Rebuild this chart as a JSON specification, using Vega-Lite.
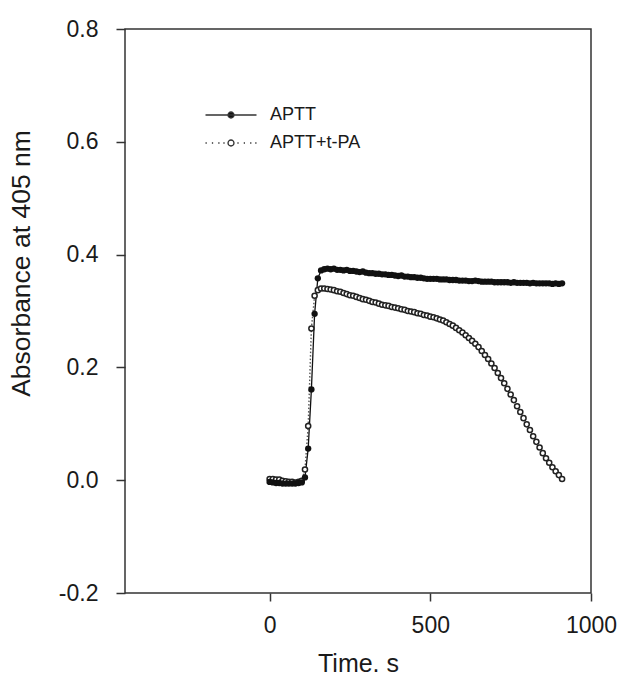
{
  "$schema": "https://vega.github.io/schema/vega-lite/v6.json",
  "width": 466,
  "height": 564,
  "autosize": "none",
  "padding": {"left": 125, "top": 29, "right": 31, "bottom": 85},
  "background": "white",
  "config": {
    "font": "Liberation Sans",
    "view": {"stroke": "#333333", "strokeWidth": 1.5},
    "axis": {"grid": false, "domain": false, "tickColor": "#333333", "tickWidth": 1.5, "labelColor": "#1a1a1a", "titleColor": "#1a1a1a", "labelFont": "Liberation Sans", "titleFont": "Liberation Sans", "titleFontWeight": "normal"}
  },
  "datasets": {
    "aptt": [
      {"t":0,"a":-0.003},{"t":10,"a":-0.004},{"t":20,"a":-0.005},{"t":30,"a":-0.005},{"t":40,"a":-0.006},{"t":50,"a":-0.006},{"t":60,"a":-0.006},{"t":70,"a":-0.006},{"t":80,"a":-0.006},{"t":90,"a":-0.005},{"t":100,"a":-0.004},{"t":110,"a":0.005},{"t":120,"a":0.056},{"t":130,"a":0.161},{"t":140,"a":0.295},{"t":150,"a":0.358},{"t":160,"a":0.372},{"t":170,"a":0.374},{"t":180,"a":0.375},{"t":190,"a":0.374},{"t":200,"a":0.375},{"t":210,"a":0.373},{"t":220,"a":0.373},{"t":230,"a":0.372},{"t":240,"a":0.373},{"t":250,"a":0.371},{"t":260,"a":0.371},{"t":270,"a":0.370},{"t":280,"a":0.369},{"t":290,"a":0.370},{"t":300,"a":0.368},{"t":310,"a":0.367},{"t":320,"a":0.367},{"t":330,"a":0.366},{"t":340,"a":0.366},{"t":350,"a":0.365},{"t":360,"a":0.365},{"t":370,"a":0.364},{"t":380,"a":0.364},{"t":390,"a":0.363},{"t":400,"a":0.362},{"t":410,"a":0.363},{"t":420,"a":0.361},{"t":430,"a":0.361},{"t":440,"a":0.360},{"t":450,"a":0.360},{"t":460,"a":0.359},{"t":470,"a":0.359},{"t":480,"a":0.358},{"t":490,"a":0.357},{"t":500,"a":0.357},{"t":510,"a":0.357},{"t":520,"a":0.357},{"t":530,"a":0.356},{"t":540,"a":0.356},{"t":550,"a":0.356},{"t":560,"a":0.355},{"t":570,"a":0.355},{"t":580,"a":0.355},{"t":590,"a":0.354},{"t":600,"a":0.354},{"t":610,"a":0.354},{"t":620,"a":0.353},{"t":630,"a":0.353},{"t":640,"a":0.354},{"t":650,"a":0.353},{"t":660,"a":0.352},{"t":670,"a":0.352},{"t":680,"a":0.352},{"t":690,"a":0.352},{"t":700,"a":0.351},{"t":710,"a":0.351},{"t":720,"a":0.351},{"t":730,"a":0.351},{"t":740,"a":0.351},{"t":750,"a":0.350},{"t":760,"a":0.351},{"t":770,"a":0.350},{"t":780,"a":0.350},{"t":790,"a":0.350},{"t":800,"a":0.350},{"t":810,"a":0.349},{"t":820,"a":0.350},{"t":830,"a":0.349},{"t":840,"a":0.349},{"t":850,"a":0.349},{"t":860,"a":0.349},{"t":870,"a":0.349},{"t":880,"a":0.348},{"t":890,"a":0.349},{"t":900,"a":0.348},{"t":910,"a":0.349}
    ],
    "tpa": [
      {"t":0,"a":0.002},{"t":10,"a":0.002},{"t":20,"a":0.001},{"t":30,"a":0.001},{"t":40,"a":-0.001},{"t":50,"a":-0.002},{"t":60,"a":-0.003},{"t":70,"a":-0.003},{"t":80,"a":-0.004},{"t":90,"a":-0.003},{"t":100,"a":-0.001},{"t":110,"a":0.019},{"t":120,"a":0.096},{"t":130,"a":0.269},{"t":140,"a":0.327},{"t":150,"a":0.337},{"t":160,"a":0.340},{"t":170,"a":0.340},{"t":180,"a":0.339},{"t":190,"a":0.338},{"t":200,"a":0.337},{"t":210,"a":0.335},{"t":220,"a":0.334},{"t":230,"a":0.332},{"t":240,"a":0.330},{"t":250,"a":0.328},{"t":260,"a":0.327},{"t":270,"a":0.325},{"t":280,"a":0.323},{"t":290,"a":0.321},{"t":300,"a":0.320},{"t":310,"a":0.318},{"t":320,"a":0.316},{"t":330,"a":0.315},{"t":340,"a":0.313},{"t":350,"a":0.311},{"t":360,"a":0.310},{"t":370,"a":0.309},{"t":380,"a":0.307},{"t":390,"a":0.306},{"t":400,"a":0.305},{"t":410,"a":0.303},{"t":420,"a":0.302},{"t":430,"a":0.300},{"t":440,"a":0.299},{"t":450,"a":0.298},{"t":460,"a":0.296},{"t":470,"a":0.295},{"t":480,"a":0.293},{"t":490,"a":0.292},{"t":500,"a":0.290},{"t":510,"a":0.289},{"t":520,"a":0.287},{"t":530,"a":0.285},{"t":540,"a":0.283},{"t":550,"a":0.280},{"t":560,"a":0.277},{"t":570,"a":0.274},{"t":580,"a":0.270},{"t":590,"a":0.266},{"t":600,"a":0.262},{"t":610,"a":0.257},{"t":620,"a":0.252},{"t":630,"a":0.247},{"t":640,"a":0.242},{"t":650,"a":0.236},{"t":660,"a":0.229},{"t":670,"a":0.222},{"t":680,"a":0.215},{"t":690,"a":0.207},{"t":700,"a":0.199},{"t":710,"a":0.190},{"t":720,"a":0.181},{"t":730,"a":0.172},{"t":740,"a":0.162},{"t":750,"a":0.152},{"t":760,"a":0.142},{"t":770,"a":0.131},{"t":780,"a":0.121},{"t":790,"a":0.110},{"t":800,"a":0.099},{"t":810,"a":0.089},{"t":820,"a":0.078},{"t":830,"a":0.068},{"t":840,"a":0.058},{"t":850,"a":0.048},{"t":860,"a":0.039},{"t":870,"a":0.031},{"t":880,"a":0.023},{"t":890,"a":0.016},{"t":900,"a":0.009},{"t":910,"a":0.002}
    ],
    "legend": [{"series":"APTT"},{"series":"APTT+t-PA"}]
  },
  "encoding": {
    "x": {"field": "t", "type": "quantitative", "scale": {"domain": [-450, 1000], "nice": false, "zero": false},
      "axis": {"title": "Time. s", "values": [0, 500, 1000], "format": "d", "labelFlush": false, "labelOverlap": false, "tickSize": 8, "labelFontSize": 23, "labelPadding": 13, "titleFontSize": 25, "titlePadding": 14}},
    "y": {"field": "a", "type": "quantitative", "scale": {"domain": [-0.2, 0.8], "nice": false, "zero": false},
      "axis": {"title": "Absorbance at 405 nm", "values": [-0.2, 0, 0.2, 0.4, 0.6, 0.8], "labelExpr": "replace(format(datum.value, '.1f'), '\u2212', '-')", "labelFlush": false, "labelOverlap": false, "tickSize": 9, "labelFontSize": 23, "labelPadding": 18, "titleFontSize": 26.5, "titleY": 234, "titlePadding": 23}}
  },
  "layer": [
    {"data": {"name": "tpa"}, "mark": {"type": "line", "color": "#555555", "strokeWidth": 1.4, "strokeDash": [1.5, 2]}},
    {"data": {"name": "aptt"}, "mark": {"type": "line", "color": "#111111", "strokeWidth": 1.3}},
    {"data": {"name": "tpa"}, "mark": {"type": "point", "shape": "circle", "size": 26, "filled": false, "fill": "white", "stroke": "#222222", "strokeWidth": 1.5, "opacity": 1}},
    {"data": {"name": "aptt"}, "mark": {"type": "point", "shape": "circle", "size": 40, "filled": true, "color": "#111111", "opacity": 1}},
    {"data": {"name": "legend"},
     "transform": [{"filter": "datum.series == 'none'"}],
     "mark": {"type": "point", "filled": true, "strokeWidth": 1.3, "opacity": 1, "size": 162.56},
     "encoding": {
       "x": {"datum": 0}, "y": {"datum": 0},
       "shape": {"field": "series", "type": "nominal", "title": null,
         "scale": {"domain": ["APTT", "APTT+t-PA"], "range": ["M-4,0H4M-0.47,0A0.47,0.47 0 1,0 0.47,0A0.47,0.47 0 1,0 -0.47,0Z", "M-4,0h0.2M-3,0h0.2M-2,0h0.2M-1.2,0h0.2M1,0h0.2M2,0h0.2M3,0h0.2M3.8,0h0.2M-0.47,0A0.47,0.47 0 1,0 0.47,0A0.47,0.47 0 1,0 -0.47,0Z"]},
         "legend": {"orient": "none", "legendX": 97, "legendY": 77, "padding": 0, "labelFontSize": 18, "labelFont": "Liberation Sans", "labelColor": "#1a1a1a", "labelOffset": 30, "rowPadding": 10, "symbolSize": 162.56, "symbolStrokeColor": "#222222", "symbolStrokeWidth": 1.3, "symbolOpacity": 1}},
       "fill": {"field": "series", "type": "nominal", "title": null,
         "scale": {"domain": ["APTT", "APTT+t-PA"], "range": ["#111111", "white"]}},
       "stroke": {"field": "series", "type": "nominal", "title": null,
         "scale": {"domain": ["APTT", "APTT+t-PA"], "range": ["#333333", "#333333"]}}
     }}
  ]
}
